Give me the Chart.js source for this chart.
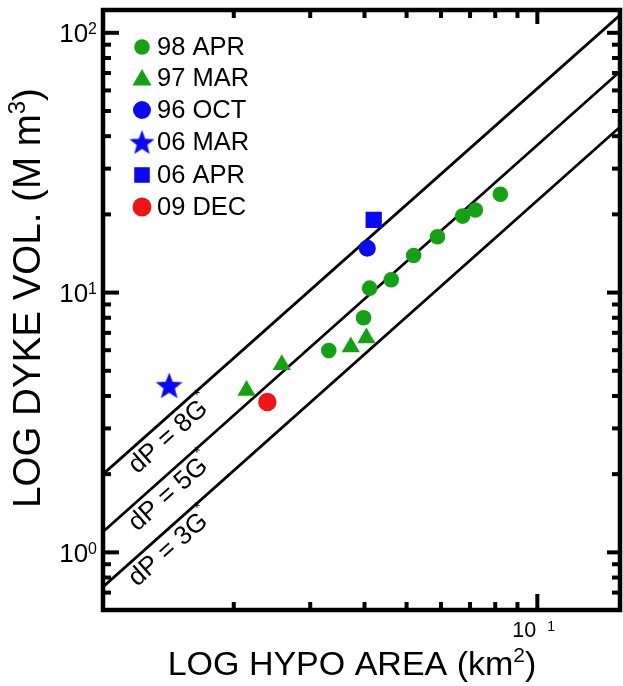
<!DOCTYPE html>
<html><head><meta charset="utf-8">
<script src="https://cdn.jsdelivr.net/npm/chart.js@4.4.0/dist/chart.umd.min.js"></script>
<style>html,body{margin:0;padding:0;background:#fff}#wrap{width:623px;height:686px;position:relative}</style>
</head><body><div id="wrap"><canvas id="c" width="623" height="686"></canvas></div>
<script>
// ---- data ----
const apr98Area = [3.31, 3.98, 4.11, 4.61, 5.19, 5.89, 6.73, 7.20, 8.22];
const apr98Vol  = [5.98, 8.0, 10.4, 11.2, 13.9, 16.4, 19.7, 20.8, 23.9];
const mar97Area = [2.14, 2.58, 3.72, 4.04];
const mar97Vol  = [4.20, 5.28, 6.18, 6.69];
const oct96Area = [4.06];
const oct96Vol  = [14.8];
const mar06Area = [1.42];
const mar06Vol  = [4.40];
const apr06Area = [4.20];
const apr06Vol  = [19.05];
const dec09Area = [2.39];
const dec09Vol  = [3.79];
const lineArea = [1, 15.5];
const line8G = [2.00, 117];
const line5G = [1.20, 71.0];
const line3G = [0.736, 43.4];
const lineNames = ['dP = 8G', 'dP = 5G', 'dP = 3G'];
const seriesNames = ['98 APR', '97 MAR', '96 OCT', '06 MAR', '06 APR', '09 DEC'];
const xMajorTicks = [10];
const xMinorTicks = [2, 3, 4, 5, 6, 7, 8, 9];
const yMajorTicks = [1, 10, 100];
const yMinorTicks = [0.7, 0.8, 0.9, 2, 3, 4, 5, 6, 7, 8, 9, 20, 30, 40, 50, 60, 70, 80, 90];
const xTickLabels = [{v: 10, base: '10', exp: '1'}];
const yTickLabels = [{v: 100, base: '10', exp: '2'}, {v: 10, base: '10', exp: '1'}, {v: 1, base: '10', exp: '0'}];
const xTitle = {base: 'LOG HYPO AREA (km', exp: '2', tail: ')'};
const yTitle = {base: 'LOG DYKE VOL. (M m', exp: '3', tail: ')'};

const GREEN = '#16a016', BLUE = '#0a0af0', RED = '#f01414';
const FONT = '"Liberation Sans", Arial, sans-serif';

function pts(xs, ys) { return xs.map((x, i) => ({x: x, y: ys[i]})); }

function starCanvas(w, color) {
  const c = document.createElement('canvas');
  c.width = w; c.height = w;
  const g = c.getContext('2d');
  g.fillStyle = color;
  const R = w / 2 * 0.98, r = R * 0.42, cx = w / 2, cy = w / 2 + R * 0.1;
  g.beginPath();
  for (let i = 0; i < 10; i++) {
    const a = -Math.PI / 2 + i * Math.PI / 5;
    const rr = i % 2 ? r : R;
    g.lineTo(cx + rr * Math.cos(a), cy + rr * Math.sin(a));
  }
  g.closePath(); g.fill();
  return c;
}
const starImg = starCanvas(29, BLUE);
const starImgLegend = starCanvas(27, BLUE);

function lineDs(vals) {
  return {type: 'line', data: pts(lineArea, vals), borderColor: '#000', borderWidth: 2.8,
          pointRadius: 0, fill: false, tension: 0, order: 10, clip: 0};
}

const datasets = [
  {label: seriesNames[0], data: pts(apr98Area, apr98Vol), pointStyle: 'circle', pointRadius: 7.8, backgroundColor: GREEN, borderWidth: 0, legendR: 7.8},
  {label: seriesNames[1], data: pts(mar97Area, mar97Vol), pointStyle: 'triangle', pointRadius: 10.5, backgroundColor: GREEN, borderWidth: 0, legendR: 11},
  {label: seriesNames[2], data: pts(oct96Area, oct96Vol), pointStyle: 'circle', pointRadius: 8.5, backgroundColor: BLUE, borderWidth: 0, legendR: 9},
  {label: seriesNames[3], data: pts(mar06Area, mar06Vol), pointStyle: starImg, pointRadius: 14, backgroundColor: BLUE, borderWidth: 0, legendImg: starImgLegend},
  {label: seriesNames[4], data: pts(apr06Area, apr06Vol), pointStyle: 'rect', pointRadius: 11.5, backgroundColor: BLUE, borderWidth: 0, legendR: 11},
  {label: seriesNames[5], data: pts(dec09Area, dec09Vol), pointStyle: 'circle', pointRadius: 9.2, backgroundColor: RED, borderWidth: 0, legendR: 9.5},
  lineDs(line8G), lineDs(line5G), lineDs(line3G)
];
datasets.slice(0, 6).forEach(d => { d.type = 'scatter'; d.pointBorderWidth = 0; d.pointBackgroundColor = d.backgroundColor; d.order = 1; d.clip = false; });

function drawSup(ctx, x, y, parts, align) {
  let total = 0;
  parts.forEach(p => { ctx.font = p.size + 'px ' + FONT; p.w = ctx.measureText(p.t).width + (p.gap || 0); total += p.w; });
  let cx = align === 'right' ? x - total : align === 'center' ? x - total / 2 : x;
  ctx.textAlign = 'left';
  parts.forEach(p => {
    ctx.font = p.size + 'px ' + FONT;
    ctx.fillText(p.t, cx, y + (p.dy || 0));
    cx += p.w;
  });
}

const framePlugin = {
  id: 'frame',
  afterDatasetsDraw(chart) {
    const ctx = chart.ctx, a = chart.chartArea, xs = chart.scales.x, ys = chart.scales.y;
    ctx.save();
    ctx.fillStyle = '#000';
    ctx.strokeStyle = '#000';
    ctx.lineWidth = 4.5;
    ctx.strokeRect(a.left, a.top, a.right - a.left, a.bottom - a.top);
    ctx.lineWidth = 4;
    ctx.lineCap = 'butt';
    function seg(x1, y1, x2, y2) { ctx.beginPath(); ctx.moveTo(x1, y1); ctx.lineTo(x2, y2); ctx.stroke(); }
    xMajorTicks.forEach(v => { const p = xs.getPixelForValue(v); seg(p, a.bottom, p, a.bottom - 16); seg(p, a.top, p, a.top + 14); });
    xMinorTicks.forEach(v => { const p = xs.getPixelForValue(v); seg(p, a.bottom, p, a.bottom - 8); seg(p, a.top, p, a.top + 8); });
    yMajorTicks.forEach(v => { const p = ys.getPixelForValue(v); seg(a.left, p, a.left + 16, p); seg(a.right, p, a.right - 13, p); });
    yMinorTicks.forEach(v => { const p = ys.getPixelForValue(v); seg(a.left, p, a.left + 8, p); seg(a.right, p, a.right - 8, p); });
    ctx.textBaseline = 'alphabetic';
    yTickLabels.forEach(t => {
      const p = ys.getPixelForValue(t.v);
      drawSup(ctx, 97, p + 9.5, [{t: t.base, size: 26}, {t: t.exp, size: 16, dy: -8}], 'right');
    });
    xTickLabels.forEach(t => {
      const p = xs.getPixelForValue(t.v);
      drawSup(ctx, p - 25, 637, [{t: t.base, size: 21.5, gap: 11}, {t: t.exp, size: 14, dy: -6}], 'left');
    });
    drawSup(ctx, 352, 675, [{t: xTitle.base, size: 34}, {t: xTitle.exp, size: 21, dy: -13}, {t: xTitle.tail, size: 34}], 'center');
    ctx.save();
    ctx.translate(40, 298);
    ctx.rotate(-Math.PI / 2);
    drawSup(ctx, 0, 0, [{t: yTitle.base, size: 38.5}, {t: yTitle.exp, size: 24, dy: -15}, {t: yTitle.tail, size: 38.5}], 'center');
    ctx.restore();
    const lineVals = [line8G, line5G, line3G];
    lineVals.forEach((vals, i) => {
      const x0 = xs.getPixelForValue(lineArea[0]), y0 = ys.getPixelForValue(vals[0]);
      const x1 = xs.getPixelForValue(lineArea[1]), y1 = ys.getPixelForValue(vals[1]);
      const ang = Math.atan2(y1 - y0, x1 - x0);
      const ax = xs.getPixelForValue(1.106);
      const t = (ax - x0) / (x1 - x0);
      const ay = y0 + t * (y1 - y0);
      ctx.save();
      ctx.translate(ax, ay);
      ctx.rotate(ang);
      drawSup(ctx, 0, 23, [{t: lineNames[i], size: 26}, {t: '*', size: 16, dy: -14}], 'left');
      ctx.restore();
    });
    const helpers = Chart.helpers;
    const rowsY = [47, 78, 110, 142, 175, 207];
    datasets.slice(0, 6).forEach((d, i) => {
      const y = rowsY[i];
      ctx.fillStyle = d.backgroundColor;
      if (d.legendImg) {
        ctx.drawImage(d.legendImg, 142 - d.legendImg.width / 2, y - d.legendImg.height / 2);
      } else {
        helpers.drawPoint(ctx, {pointStyle: d.pointStyle, radius: d.legendR, rotation: 0, borderWidth: 0}, 142, y + (d.pointStyle === 'triangle' ? 2 : 0));
      }
      ctx.fillStyle = '#000';
      ctx.font = '25.5px ' + FONT;
      ctx.textAlign = 'left';
      ctx.textBaseline = 'middle';
      ctx.fillText(d.label, 157, y + 1);
    });
    ctx.restore();
  }
};

new Chart(document.getElementById('c'), {
  data: {datasets: datasets},
  options: {
    responsive: false,
    animation: false,
    events: [],
    layout: {autoPadding: false, padding: {top: 10, right: 3, left: 0, bottom: 0}},
    plugins: {legend: {display: false}, tooltip: {enabled: false}},
    scales: {
      x: {type: 'logarithmic', min: 1, max: 15.5, grid: {display: false}, border: {display: false},
          ticks: {display: false}, afterFit(s) { s.height = 76; }},
      y: {type: 'logarithmic', min: 0.634, max: 122.4, grid: {display: false}, border: {display: false},
          ticks: {display: false}, afterFit(s) { s.width = 103; }}
    }
  },
  plugins: [framePlugin]
});
</script></body></html>
